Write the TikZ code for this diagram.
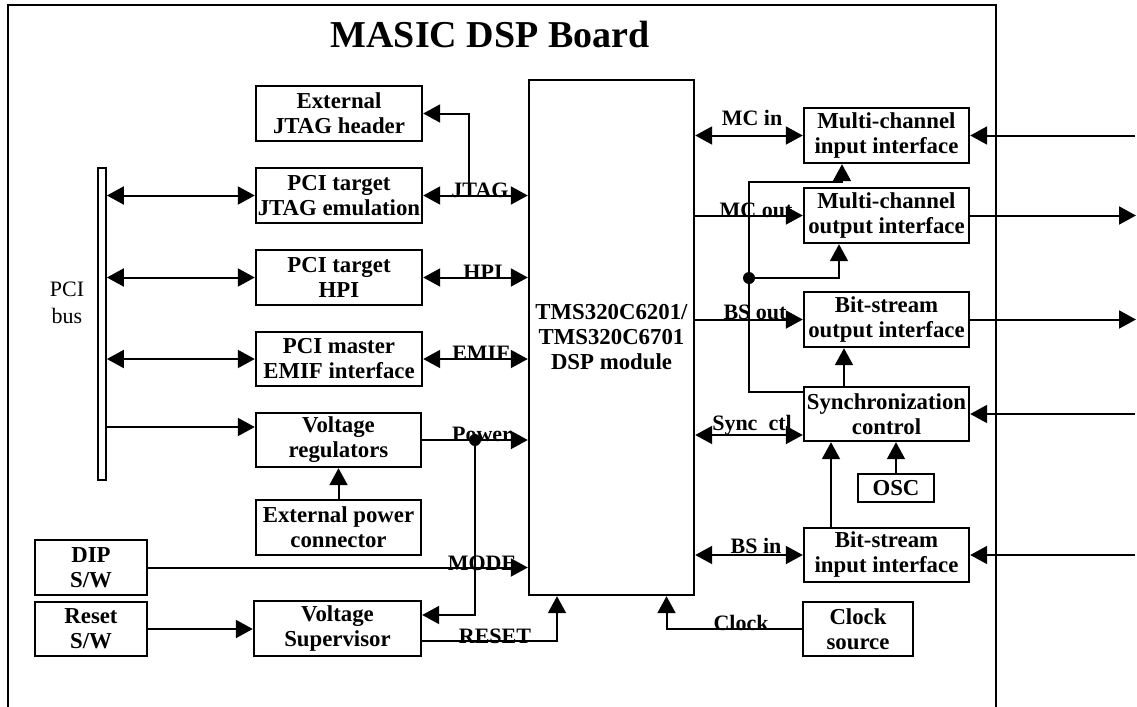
\documentclass[tikz,border=0pt]{standalone}
\usepackage{fontspec}
\setmainfont{Liberation Serif}
\usetikzlibrary{arrows.meta,calc}
\begin{document}
\begin{tikzpicture}[x=0.5pt,y=-0.5pt,
  box/.style={draw,line width=1.2pt,inner sep=0pt,align=center,font=\fontsize{11.4}{12.5}\selectfont\bfseries},
  lab/.style={anchor=base,inner sep=0pt,font=\fontsize{11}{12}\selectfont\bfseries},
  conn/.style={line width=1pt},
  >={Triangle[length=8.5pt,width=9pt]},
  dot/.style={circle,fill,inner sep=0pt,minimum size=6pt}]
\useasboundingbox (0,0) rectangle (1137,707);
% frame
\draw[line width=1pt] (8,707) -- (8,5) -- (996,5) -- (996,707);
\node[anchor=base,inner sep=0pt,font=\fontsize{19}{22}\selectfont\bfseries] (title) at (490,47) {MASIC DSP Board};
% PCI bus
\node[draw,line width=0.9pt,minimum width=4pt,minimum height=156pt,inner sep=0pt] (bar) at (102,324) {};
\node[align=center,inner sep=0pt,font=\fontsize{11}{13.5}\selectfont] (pcibus) at (67,303) {PCI\\bus};
% left boxes
\node[box,minimum width=83pt,minimum height=27.5pt] (jtagh) at (339,113.5) {External\\JTAG header};
\node[box,minimum width=83pt,minimum height=27.5pt] (jtage) at (339,195.5) {PCI target\\JTAG emulation};
\node[box,minimum width=83pt,minimum height=27.5pt] (hpi) at (339,277.5) {PCI target\\HPI};
\node[box,minimum width=83pt,minimum height=27pt] (emif) at (339,359) {PCI master\\EMIF interface};
\node[box,minimum width=82.5pt,minimum height=27pt] (vreg) at (338.5,440) {Voltage\\regulators};
\node[box,minimum width=82.5pt,minimum height=27.5pt] (epow) at (338.5,527.5) {External power\\connector};
\node[box,minimum width=83.5pt,minimum height=27.5pt] (vsup) at (337.5,628.5) {Voltage\\Supervisor};
\node[box,minimum width=56pt,minimum height=27.5pt] (dip) at (91,567.5) {DIP\\S/W};
\node[box,minimum width=56pt,minimum height=27pt] (rst) at (91,629) {Reset\\S/W};
% DSP
\node[box,minimum width=82.5pt,minimum height=257.5pt] (dsp) at (611.5,337.5) {TMS320C6201/\\TMS320C6701\\DSP module};
% right boxes
\node[box,minimum width=82.5pt,minimum height=27.5pt] (mcin) at (886.5,135.5) {Multi-channel\\input interface};
\node[box,minimum width=82.5pt,minimum height=27.5pt] (mcout) at (886.5,215.5) {Multi-channel\\output interface};
\node[box,minimum width=82.5pt,minimum height=27.5pt] (bsout) at (886.5,319.5) {Bit-stream\\output interface};
\node[box,minimum width=82.5pt,minimum height=27pt] (sync) at (886.5,414) {Synchronization\\control};
\node[box,minimum width=38pt,minimum height=14pt] (osc) at (896,488) {OSC};
\node[box,minimum width=82.5pt,minimum height=27pt] (bsin) at (886.5,555) {Bit-stream\\input interface};
\node[box,minimum width=55pt,minimum height=27pt] (clk) at (858,629) {Clock\\source};
% PCI bus connectors
\draw[conn,<->] (bar.east |- jtage.west) -- (jtage.west);
\draw[conn,<->] (bar.east |- hpi.west) -- (hpi.west);
\draw[conn,<->] (bar.east |- emif.west) -- (emif.west);
\draw[conn,->] ([yshift=6.5pt]vreg.west -| bar.east) -- ([yshift=6.5pt]vreg.west);
% left to DSP
\draw[conn,<->] (jtage.east) -- (jtage.east -| dsp.west);
\coordinate (jj) at (469,195.5);
\draw[conn,->] (jj) |- (jtagh.east);
\draw[conn,<->] (hpi.east) -- (hpi.east -| dsp.west);
\draw[conn,<->] (emif.east) -- (emif.east -| dsp.west);
\draw[conn,->] (vreg.east) -- (vreg.east -| dsp.west);
\node[dot] (pj) at (475,440) {};
\draw[conn,->] (pj.center) |- ([yshift=6.75pt]vsup.east);
\draw[conn,->] (epow.north) -- (vreg.south);
\draw[conn,->] (dip.east) -- (dip.east -| dsp.west);
\draw[conn,->] (rst.east) -- (rst.east -| vsup.west);
\draw[conn,->] ([yshift=-6.25pt]vsup.east) -| ([xshift=-27.25pt]dsp.south);
\draw[conn,->] (clk.west) -| ([xshift=27.5pt]dsp.south);
% DSP to right
\draw[conn,<->] (dsp.east |- mcin.west) -- (mcin.west);
\draw[conn,->] (dsp.east |- mcout.west) -- (mcout.west);
\draw[conn,->] (dsp.east |- bsout.west) -- (bsout.west);
\draw[conn,<->] ([yshift=-10.5pt]sync.west -| dsp.east) -- ([yshift=-10.5pt]sync.west);
\draw[conn,<->] (dsp.east |- bsin.west) -- (bsin.west);
% sync distribution
\coordinate (sc) at (749,182);
\draw[conn,->] ([yshift=11pt]sync.west) -| (sc) -| ([xshift=-22.25pt]mcin.south);
\node[dot] (sj) at (749,278) {};
\draw[conn,->] (sj.center) -| ([xshift=-23.75pt]mcout.south);
\draw[conn,->] ([xshift=-21.25pt]sync.north) -- ([xshift=-21.25pt]sync.north |- bsout.south);
\draw[conn,->] (osc.north) -- (osc.north |- sync.south);
\draw[conn,->] ([xshift=-27.75pt]bsin.north) -- ([xshift=-27.75pt]bsin.north |- sync.south);
% external
\coordinate (x1) at (1135,135.5);
\coordinate (x2) at (1136,215.5);
\coordinate (x3) at (1136,319.5);
\coordinate (x4) at (1135,414);
\coordinate (x5) at (1135,555);
\draw[conn,->] (x1) -- (mcin.east);
\draw[conn,->] (mcout.east) -- (x2);
\draw[conn,->] (bsout.east) -- (x3);
\draw[conn,->] (x4) -- (sync.east);
\draw[conn,->] (x5) -- (bsin.east);
% labels
\node[lab] (lj) at (480,197) {JTAG};
\node[lab] (lh) at (483,279) {HPI};
\node[lab] (le) at (481,360) {EMIF};
\node[lab] (lp) at (482,441) {Power};
\node[lab] (lm) at (482,570) {MODE};
\node[lab] (lr) at (495,643) {RESET};
\node[lab] (lc) at (741,630) {Clock};
\node[lab] (lmi) at (752,125) {MC in};
\node[lab] (lmo) at (756,217) {MC out};
\node[lab] (lbo) at (755,319) {BS out};
\node[lab] (lsc) at (752,430) {Sync\ \ ctl};
\node[lab] (lbi) at (756,553) {BS in};
\end{tikzpicture}
\end{document}
